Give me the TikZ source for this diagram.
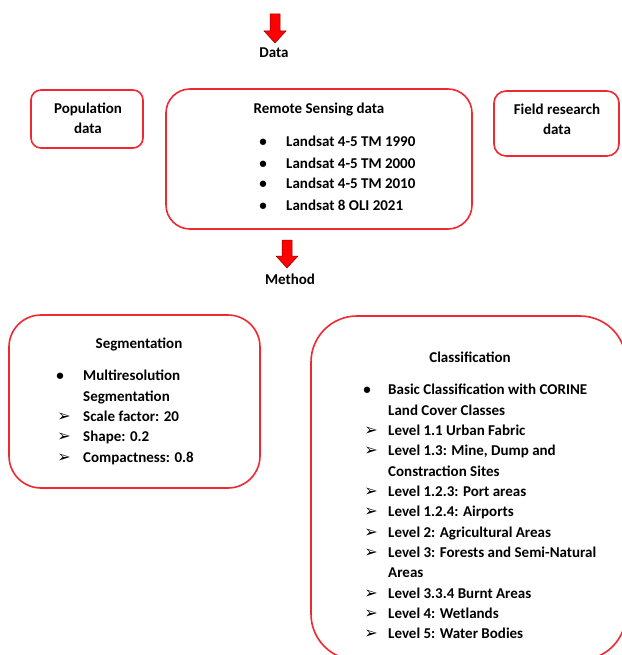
\documentclass[tikz,border=0pt]{standalone}
\usepackage{fontspec}
\setmainfont{Carlito}
\newfontfamily\dejavu{DejaVu Sans}
\definecolor{boxred}{RGB}{240,40,50}
\definecolor{arrowred}{RGB}{255,0,0}
\definecolor{arrowedge}{RGB}{140,0,0}
\begin{document}
\begin{tikzpicture}[x=1pt,y=-1pt,
  box/.style={draw=boxred,line width=1.6pt,inner sep=0pt},
  txt/.style={font=\fontsize{15}{18}\selectfont\bfseries,inner sep=0pt,anchor=base},
  item/.style={txt,anchor=base west},
  bul/.style={txt,anchor=base},
  arrbul/.style={font=\dejavu\bfseries\fontsize{16}{18}\selectfont,inner sep=0pt,anchor=base},
  blockarrow/.style={fill=arrowred,draw=arrowedge,line width=0.5pt,line join=miter}]
\useasboundingbox (0,0) rectangle (621,655);

% block arrows
\draw[blockarrow] (270,14) -- (280,14) -- (280,31) -- (286,31) -- (275,43) -- (264,31) -- (270,31) -- cycle;
\draw[blockarrow] (282,240) -- (292,240) -- (292,256) -- (298,256) -- (287,268) -- (276,256) -- (282,256) -- cycle;

% boxes
\node[box,rounded corners=10pt,minimum width=112pt,minimum height=58pt] (pop) at (87,119) {};
\node[box,rounded corners=24pt,minimum width=306pt,minimum height=140pt] (rs) at (319,159) {};
\node[box,rounded corners=12pt,minimum width=125pt,minimum height=65pt] (field) at (556.5,123.5) {};
\node[box,rounded corners=32pt,minimum width=251pt,minimum height=173pt] (seg) at (134.5,401.5) {};
\node[box,rounded corners=46pt,minimum width=315pt,minimum height=344pt] (cls) at (468.5,488) {};

% labels
\node[txt] (data) at (274,58) {Data};
\node[txt] (method) at (290,284) {Method};
\node[txt] (pop1) at (88,114) {Population};
\node[txt] (pop2) at (88,134) {data};
\node[txt] (fld1) at (557,115) {Field research};
\node[txt] (fld2) at (557,135) {data};
\node[txt] (rstitle) at (319,114) {Remote Sensing data};
\foreach \t [count=\i] in {Landsat 4-5 TM 1990,Landsat 4-5 TM 2000,Landsat 4-5 TM 2010,Landsat 8 OLI 2021}{
  \node[bul] (rsb\i) at (263,126+21*\i) {•};
  \node[item] (rsi\i) at (286,126+21*\i) {\t};
}

% segmentation
\node[txt] (segtitle) at (139,348) {Segmentation};
\node[bul] (segb1) at (60,380) {•};
\node[item] (segi1) at (83,380) {Multiresolution};
\node[item] (segi2) at (83,401) {Segmentation};
\node[arrbul] (sega3) at (64,421) {➢};
\node[item] (segi3) at (83,421) {Scale factor: 20};
\node[arrbul] (sega4) at (64,441) {➢};
\node[item] (segi4) at (83,441) {Shape: 0.2};
\node[arrbul] (sega5) at (64,462) {➢};
\node[item] (segi5) at (83,462) {Compactness: 0.8};

% classification
\node[txt] (clstitle) at (470,362) {Classification};
\node[bul] (clsb1) at (367,394) {•};
\node[item] (clsi1) at (388,394) {Basic Classification with CORINE};
\node[item] (clsi2) at (388,415) {Land Cover Classes};
\node[arrbul] (clsa3) at (371,435) {➢};
\node[item] (clsi3) at (388,435) {Level 1.1 Urban Fabric};
\node[arrbul] (clsa4) at (371,455) {➢};
\node[item] (clsi4) at (388,455) {Level 1.3: Mine, Dump and};
\node[item] (clsi5) at (388,476) {Constraction Sites};
\node[arrbul] (clsa6) at (371,496) {➢};
\node[item] (clsi6) at (388,496) {Level 1.2.3: Port areas};
\node[arrbul] (clsa7) at (371,516) {➢};
\node[item] (clsi7) at (388,516) {Level 1.2.4: Airports};
\node[arrbul] (clsa8) at (371,537) {➢};
\node[item] (clsi8) at (388,537) {Level 2: Agricultural Areas};
\node[arrbul] (clsa9) at (371,557) {➢};
\node[item] (clsi9) at (388,557) {Level 3: Forests and Semi-Natural};
\node[item] (clsi10) at (388,577) {Areas};
\node[arrbul] (clsa11) at (371,598) {➢};
\node[item] (clsi11) at (388,598) {Level 3.3.4 Burnt Areas};
\node[arrbul] (clsa12) at (371,618) {➢};
\node[item] (clsi12) at (388,618) {Level 4: Wetlands};
\node[arrbul] (clsa13) at (371,638) {➢};
\node[item] (clsi13) at (388,638) {Level 5: Water Bodies};
\end{tikzpicture}
\end{document}
